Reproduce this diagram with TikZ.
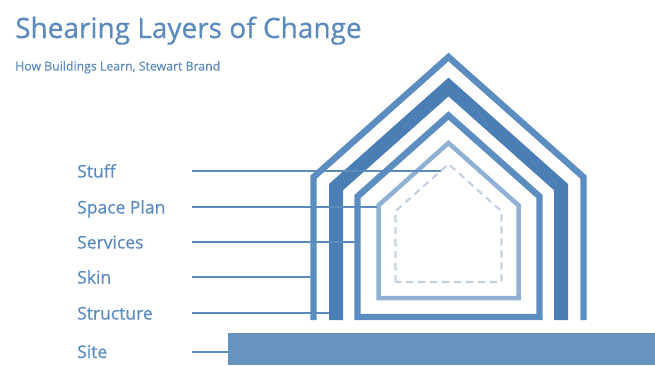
\documentclass[tikz,border=0pt]{standalone}
\usepackage{fontspec}
\setmainfont{Open Sans}
\newfontfamily\signfont{Open Sans}[FakeBold=0.6]
\definecolor{layerblue}{HTML}{5B8DC0}
\definecolor{structblue}{HTML}{4A7EB5}
\definecolor{spaceblue}{HTML}{8FB1D4}
\definecolor{stuffgray}{HTML}{C3D1E2}
\definecolor{siteblue}{HTML}{6794BF}
\definecolor{textblue}{HTML}{5B8BBE}
\tikzset{
  label/.style={anchor=base west, text=textblue, font=\signfont\fontsize{17.5}{20}\selectfont},
  leader/.style={draw=textblue, line width=1.8pt},
  layer/.style={line join=miter, line cap=butt},
}
% house outline: half width, apex y, bottom y
\newcommand{\houseoutline}[3]{(448.5-#1,#3) -- (448.5-#1,#2+0.89*#1) -- (448.5,#2) -- (448.5+#1,#2+0.89*#1) -- (448.5+#1,#3)}
\begin{document}
\begin{tikzpicture}[x=1pt, y=-1pt]
  \useasboundingbox (0,0) rectangle (655,365);
  \node[anchor=base west, text=textblue, font=\signfont\fontsize{28}{32}\selectfont, inner sep=0pt] (title) at (15,38) {Shearing Layers of Change};
  \node[anchor=base west, text=textblue, font=\signfont\fontsize{12.3}{14}\selectfont, inner sep=0pt] (subtitle) at (15,70.5) {How Buildings Learn, Stewart Brand};

  \fill[siteblue] (228,333) rectangle (655,365);
  \draw[layer, draw=layerblue, line width=6.4pt] \houseoutline{135}{57}{320};
  \draw[layer, draw=structblue, line width=14pt] \houseoutline{112.5}{87}{320};
  \draw[layer, draw=layerblue, line width=6.4pt] \houseoutline{91}{115.5}{317} -- cycle;
  \draw[layer, draw=spaceblue, line width=4.5pt] \houseoutline{70}{143}{298} -- cycle;
  \draw[layer, draw=stuffgray, line width=2.2pt, dash pattern=on 7pt off 5pt] \houseoutline{53}{164}{282} -- cycle;

  \node[label, inner sep=0pt] (stuff) at (77,177.5) {Stuff};
  \node[label, inner sep=0pt] (spaceplan) at (77,213.5) {Space Plan};
  \node[label, inner sep=0pt] (services) at (77,248.5) {Services};
  \node[label, inner sep=0pt] (skin) at (77,283.5) {Skin};
  \node[label, inner sep=0pt] (structure) at (77,319.5) {Structure};
  \node[label, inner sep=0pt] (site) at (77,358) {Site};

  \coordinate (stuff-a) at (192,171);
  \coordinate (stuff-b) at (441,171);
  \coordinate (spaceplan-a) at (192,207);
  \coordinate (spaceplan-b) at (377,207);
  \coordinate (services-a) at (192,242);
  \coordinate (services-b) at (355,242);
  \coordinate (skin-a) at (192,277);
  \coordinate (skin-b) at (311,277);
  \coordinate (structure-a) at (192,313);
  \coordinate (structure-b) at (329,313);
  \coordinate (site-a) at (192,352);
  \coordinate (site-b) at (228,352);
  \foreach \n in {stuff,spaceplan,services,skin,structure,site}
    \draw[leader] (\n-a) -- (\n-b);
\end{tikzpicture}
\end{document}
